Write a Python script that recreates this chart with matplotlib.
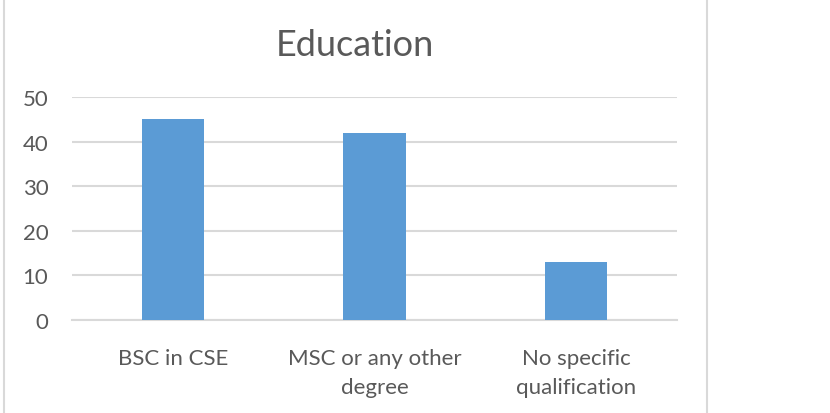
import matplotlib
matplotlib.use("Agg")
import matplotlib.pyplot as plt
from matplotlib.lines import Line2D

categories = ["BSC in CSE", "MSC or any other\ndegree", "No specific\nqualification"]
values = [45, 42, 13]
yticks = [0, 10, 20, 30, 40, 50]
title = "Education"

W, H = 830, 414
plt.rcParams['font.family'] = ['Lato', 'DejaVu Sans']
fig = plt.figure(figsize=(W / 100, H / 100), dpi=100)
fig.patch.set_facecolor("white")

ax = fig.add_axes([72 / W, 1 - 321 / H, (677 - 72) / W, (321 - 98) / H])
x = list(range(len(categories)))
ax.bar(x, values, width=0.31, color="#5b9bd5", zorder=3)
ax.set_xlim(-0.5, len(categories) - 0.5)
ax.set_ylim(0, 50)
ax.set_yticks(yticks)
ax.set_xticks(x)
ax.set_xticklabels(categories, linespacing=1.55)
ax.yaxis.grid(True, color="#d9d9d9", linewidth=1.5, zorder=0)
ax.xaxis.grid(False)
for s in ["top", "right", "left"]:
    ax.spines[s].set_visible(False)
ax.spines["bottom"].set_color("#d9d9d9")
ax.spines["bottom"].set_linewidth(1.5)
ax.tick_params(axis="both", length=0, colors="#595959", labelsize=16)
ax.tick_params(axis="y", pad=17)
ax.tick_params(axis="x", pad=20)

fig.text(355 / W, 1 - 56 / H, title, ha="center", va="baseline",
         fontsize=26, color="#595959")

# chart frame lines
fig.add_artist(Line2D([3.5 / W, 3.5 / W], [0, 1], color="#d9d9d9", linewidth=1.5))
fig.add_artist(Line2D([707 / W, 707 / W], [0, 1], color="#d9d9d9", linewidth=1.5))

fig.savefig("out.png", dpi=100)
